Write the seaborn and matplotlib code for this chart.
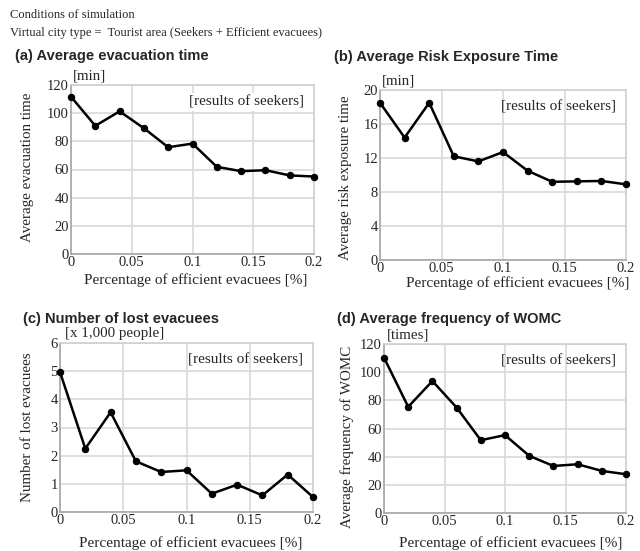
import matplotlib
matplotlib.use("Agg")
import matplotlib.pyplot as plt
import seaborn as sns
import pandas as pd

# ---- data ----
pct = [0.0, 0.02, 0.04, 0.06, 0.08, 0.10, 0.12, 0.14, 0.16, 0.18, 0.20]
evac_time = [111.7, 91.0, 101.3, 89.3, 75.8, 78.4, 61.9, 58.8, 59.5, 55.8, 55.0]
risk_time = [18.5, 14.4, 18.5, 12.2, 11.6, 12.7, 10.5, 9.2, 9.25, 9.3, 8.9]
lost_evac = [4.97, 2.25, 3.54, 1.8, 1.42, 1.48, 0.65, 0.97, 0.59, 1.33, 0.53]
womc_freq = [110.3, 75.4, 93.7, 74.9, 51.7, 55.3, 40.6, 33.4, 34.6, 29.9, 27.5]

x_ticks = [0, 0.05, 0.1, 0.15, 0.2]
x_ticklabels = ["0", "0.05", "0.1", "0.15", "0.2"]

sns.set_theme(style="white")
plt.rcParams['font.family'] = ['Liberation Serif', 'DejaVu Serif']

W, H = 640, 551
fig = plt.figure(figsize=(W / 100, H / 100), dpi=100)

def rect(l, t, r, b):
    return [l / W, 1 - b / H, (r - l) / W, (b - t) / H]

panels = [
    dict(box=(71, 85, 314, 254), y=evac_time, ymax=120, yticks=[0, 20, 40, 60, 80, 100, 120],
         title="(a) Average evacuation time", tpos=(15, 56), unit="[min]", uoff=2,
         ylabel="Average evacuation time", boxed=True,
         xl=(196, 280), yl=(27, 167)),
    dict(box=(380, 90, 626, 260), y=risk_time, ymax=20, yticks=[0, 4, 8, 12, 16, 20],
         title="(b) Average Risk Exposure Time", tpos=(334, 57), unit="[min]", uoff=2,
         ylabel="Average risk exposure time", boxed=False,
         xl=(518, 283), yl=(345, 178)),
    dict(box=(60, 343, 313, 512), y=lost_evac, ymax=6, yticks=[0, 1, 2, 3, 4, 5, 6],
         title="(c) Number of lost evacuees", tpos=(23, 319), unit="[x 1,000 people]", uoff=5,
         ylabel="Number of lost evacuees", boxed=False,
         xl=(191, 543), yl=(27.5, 427.5)),
    dict(box=(384, 344, 626, 513), y=womc_freq, ymax=120, yticks=[0, 20, 40, 60, 80, 100, 120],
         title="(d) Average frequency of WOMC", tpos=(337, 319), unit="[times]", uoff=3,
         ylabel="Average frequency of WOMC", boxed=False,
         xl=(511, 543), yl=(347, 437)),
]

for p in panels:
    l, t, r, b = p["box"]
    aw, ah = r - l, b - t
    ax = fig.add_axes(rect(l, t, r, b))
    df = pd.DataFrame({"x": pct, "y": p["y"]})
    sns.lineplot(data=df, x="x", y="y", ax=ax, color="black", linewidth=1.8,
                 marker="o", markersize=4.6, markeredgecolor="black", clip_on=False, zorder=5)
    ax.set_xlim(0, 0.2)
    ax.set_ylim(0, p["ymax"])
    ax.set_xticks(x_ticks)
    ax.set_xticklabels(x_ticklabels)
    ax.set_yticks(p["yticks"])
    ax.grid(True, color="#d9d9d9", linewidth=1.2)
    ax.set_axisbelow(True)
    for s in ax.spines.values():
        s.set_color("#d0d0d0")
        s.set_linewidth(1.2)
    ax.spines["left"].set_color("#a6a6a6")
    ax.spines["bottom"].set_color("#a6a6a6")
    ax.tick_params(axis="both", length=0, labelsize=10.5, pad=1.5)

    ax.set_xlabel("Percentage of efficient evacuees [%]", fontsize=11)
    ax.xaxis.set_label_coords((p["xl"][0] - l) / aw, (b - p["xl"][1]) / ah)
    ax.xaxis.label.set_va("center")
    ax.set_ylabel(p["ylabel"], fontsize=10.8)
    ax.yaxis.set_label_coords((p["yl"][0] - l) / aw, (b - p["yl"][1]) / ah)
    ax.yaxis.label.set_va("center")

    ax.text(0.96, 0.90, "[results of seekers]", transform=ax.transAxes, ha="right", va="center",
            fontsize=11, zorder=3,
            bbox=dict(facecolor="white", edgecolor="none", pad=1.5) if p["boxed"] else None)
    ax.text(p["uoff"] / aw, 1.015, p["unit"], transform=ax.transAxes, ha="left", va="bottom",
            fontsize=10.8)
    fig.text(p["tpos"][0] / W, 1 - p["tpos"][1] / H, p["title"], ha="left", va="center",
             fontsize=10.5, fontweight="bold", family=["Liberation Sans", "DejaVu Sans"])

fig.text(10 / W, 1 - 15 / H, "Conditions of simulation", ha="left", va="center", fontsize=9)
fig.text(10 / W, 1 - 33 / H, "Virtual city type =  Tourist area (Seekers + Efficient evacuees)",
         ha="left", va="center", fontsize=9)

fig.savefig("out.png", dpi=100)
